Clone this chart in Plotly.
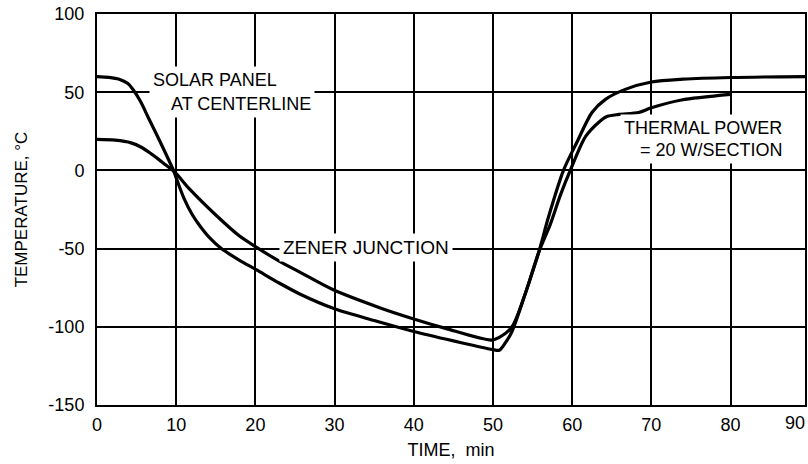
import plotly.graph_objects as go

# ---- data ----
solar_t = [0, 1.5, 2.8, 3.9, 4.5, 5.5, 6.5, 8, 9.6, 10.3, 11, 12, 13, 14.3, 15.7, 18, 20.1, 23, 25.6,
           30, 35, 40, 45, 49.9, 50.8, 51.6, 52.4, 54, 55.8, 57, 58.9, 60.6, 62.5, 64.2, 66.7,
           70, 74, 80, 89.4]
solar_T = [60, 59.5, 58.3, 55.5, 52, 44, 33.5, 18, 0.6, -9, -18, -28, -35.5, -43.5, -50, -57.5, -63.5, -72, -79,
           -88.5, -96, -103, -109, -114.5, -115, -110, -103, -80, -52, -30, 0, 18, 37, 45.4, 51.8,
           56.5, 58.3, 59.4, 60]

zener_t = [0, 2.3, 4.3, 5.6, 6.9, 8.6, 9.8, 11.7, 15.1, 18, 20.1, 23, 25.6, 29.7, 35.6, 40, 44,
           49.8, 50.8, 52.4, 54, 55.8, 57.2, 58.5, 59.8, 61.7, 63.4, 64.4, 65.9, 68.4, 70, 73.8, 80]
zener_T = [19.8, 19.3, 17.6, 14.8, 10.4, 3.8, -1, -12, -29, -42, -49, -58, -65, -76, -87.6, -95, -101,
           -108.5, -106.8, -100, -80, -52, -35, -16, 0.5, 21.7, 31, 34.5, 35.8, 37, 40, 45, 48.6]

x_ticks = [0, 10, 20, 30, 40, 50, 60, 70, 80]
x_tick_labels = ["0", "10", "20", "30", "40", "50", "60", "70", "80"]
y_ticks = [-150, -100, -50, 0, 50, 100]
y_tick_labels = ["-150", "-100", "-50", "0", "50", "100"]

FONT = "Liberation Sans, Arial, sans-serif"
fs = 18

fig = go.Figure()
for t, T in [(solar_t, solar_T), (zener_t, zener_T)]:
    fig.add_trace(go.Scatter(x=t, y=T, mode="lines",
                             line=dict(color="black", width=3.2, shape="spline", smoothing=0.8),
                             showlegend=False, hoverinfo="skip"))

def lab(text, x, y, size=fs):
    fig.add_annotation(text=text, x=x, y=y, xref="x", yref="y", xanchor="left", yanchor="middle",
                       showarrow=False, bgcolor="white", borderpad=3,
                       font=dict(family=FONT, size=size, color="black"))

lab("SOLAR PANEL", 6.6, 57.5)
lab("AT CENTERLINE", 8.9, 42.2)
lab("ZENER JUNCTION", 23.0, -49.2, 19)
lab("THERMAL POWER", 66.1, 26.9)
lab("= 20 W/SECTION", 68.0, 12.8)

# "90" tick label squeezed against the right edge
fig.add_annotation(text="90", x=0.969, y=0, xref="paper", yref="paper", yanchor="top", xanchor="left",
                   yshift=-6, showarrow=False, font=dict(family=FONT, size=fs, color="black"))

fig.update_layout(
    width=808, height=464,
    margin=dict(l=97, r=1, t=14, b=59),
    paper_bgcolor="white", plot_bgcolor="white",
    font=dict(family=FONT, size=fs, color="black"),
)
fig.update_xaxes(range=[0, 89.4], tickvals=x_ticks, ticktext=x_tick_labels,
                 showgrid=True, gridcolor="black", gridwidth=1.8,
                 showline=True, linecolor="black", linewidth=2, mirror=True,
                 zeroline=False, ticks="", ticklabelstandoff=2,
                 title=dict(text="TIME,  min", font=dict(family=FONT, size=fs), standoff=10))
fig.update_yaxes(range=[-150, 100], tickvals=y_ticks, ticktext=y_tick_labels,
                 showgrid=True, gridcolor="black", gridwidth=1.8,
                 showline=True, linecolor="black", linewidth=2, mirror=True,
                 zeroline=False, ticks="", ticklabelstandoff=7,
                 title=dict(text="TEMPERATURE, °C", font=dict(family=FONT, size=17), standoff=16))

fig.write_html("out.html")
